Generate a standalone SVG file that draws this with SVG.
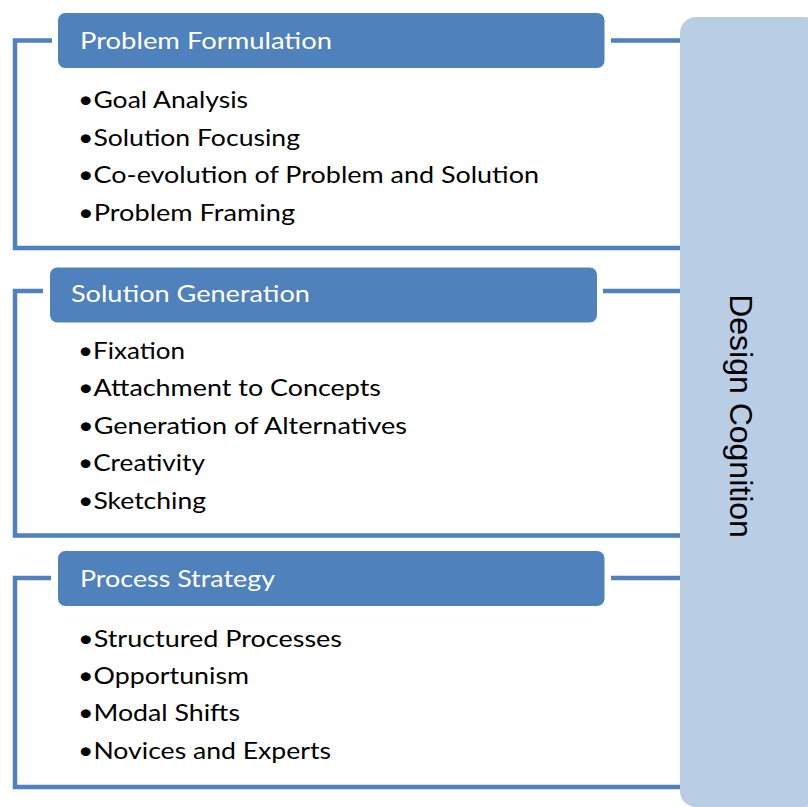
<svg xmlns="http://www.w3.org/2000/svg" width="808" height="807" viewBox="0 0 808 807">
  <style>
    .link { fill: none; stroke: #4F81BD; stroke-width: 4.5; stroke-linecap: butt; stroke-linejoin: miter; }
    .head { fill: #4F81BD; stroke: #ffffff; stroke-width: 1; }
    .headtxt { fill: #ffffff; font-family: Lato, "Open Sans", "Liberation Sans", sans-serif; font-size: 24px; }
    .item { fill: #000000; font-family: Lato, "Open Sans", "Liberation Sans", sans-serif; font-size: 24px; }
    .side { fill: #B9CDE5; }
    .sidetxt { fill: #000000; font-family: "Liberation Sans", Arial, sans-serif; font-size: 32px; }
  </style>
  <rect width="808" height="807" fill="#ffffff"/>

  <!-- brackets joining each group to the main column -->
  <g id="connectors">
    <path class="link" d="M52,40.5 H15 V248 H680"/>
    <path class="link" d="M611,40.5 H680"/>
    <path class="link" d="M43,291 H15 V535.5 H680"/>
    <path class="link" d="M603,291 H680"/>
    <path class="link" d="M51,578 H15 V787 H680"/>
    <path class="link" d="M611,578 H680"/>
  </g>

  <g id="problem-formulation">
    <rect class="head" x="57.5" y="12.5" width="547.5" height="56" rx="8"/>
    <text class="headtxt" x="80" y="48.5" textLength="252" lengthAdjust="spacingAndGlyphs">Problem Formulation</text>
    <text class="item" x="78" y="108.3" textLength="170" lengthAdjust="spacingAndGlyphs">•Goal Analysis</text>
    <text class="item" x="78" y="145.8" textLength="222" lengthAdjust="spacingAndGlyphs">•Solution Focusing</text>
    <text class="item" x="78" y="183.3" textLength="461" lengthAdjust="spacingAndGlyphs">•Co-evolution of Problem and Solution</text>
    <text class="item" x="78" y="220.8" textLength="217" lengthAdjust="spacingAndGlyphs">•Problem Framing</text>
  </g>

  <g id="solution-generation">
    <rect class="head" x="49.5" y="267" width="548" height="56" rx="8"/>
    <text class="headtxt" x="71" y="301.7" textLength="239" lengthAdjust="spacingAndGlyphs">Solution Generation</text>
    <text class="item" x="78" y="358.5" textLength="107" lengthAdjust="spacingAndGlyphs">•Fixation</text>
    <text class="item" x="78" y="396" textLength="303" lengthAdjust="spacingAndGlyphs">•Attachment to Concepts</text>
    <text class="item" x="78" y="433.5" textLength="329" lengthAdjust="spacingAndGlyphs">•Generation of Alternatives</text>
    <text class="item" x="78" y="471" textLength="127" lengthAdjust="spacingAndGlyphs">•Creativity</text>
    <text class="item" x="78" y="508.5" textLength="128" lengthAdjust="spacingAndGlyphs">•Sketching</text>
  </g>

  <g id="process-strategy">
    <rect class="head" x="57.5" y="550.5" width="547.5" height="56" rx="8"/>
    <text class="headtxt" x="80" y="587" textLength="195" lengthAdjust="spacingAndGlyphs">Process Strategy</text>
    <text class="item" x="78" y="646.7" textLength="264" lengthAdjust="spacingAndGlyphs">•Structured Processes</text>
    <text class="item" x="78" y="683.5" textLength="171" lengthAdjust="spacingAndGlyphs">•Opportunism</text>
    <text class="item" x="78" y="721" textLength="162" lengthAdjust="spacingAndGlyphs">•Modal Shifts</text>
    <text class="item" x="78" y="758.5" textLength="253" lengthAdjust="spacingAndGlyphs">•Novices and Experts</text>
  </g>

  <g id="design-cognition">
    <rect class="side" x="680" y="17" width="140" height="790" rx="16"/>
    <text class="sidetxt" transform="translate(730,416) rotate(90)" text-anchor="middle">Design Cognition</text>
  </g>
</svg>
